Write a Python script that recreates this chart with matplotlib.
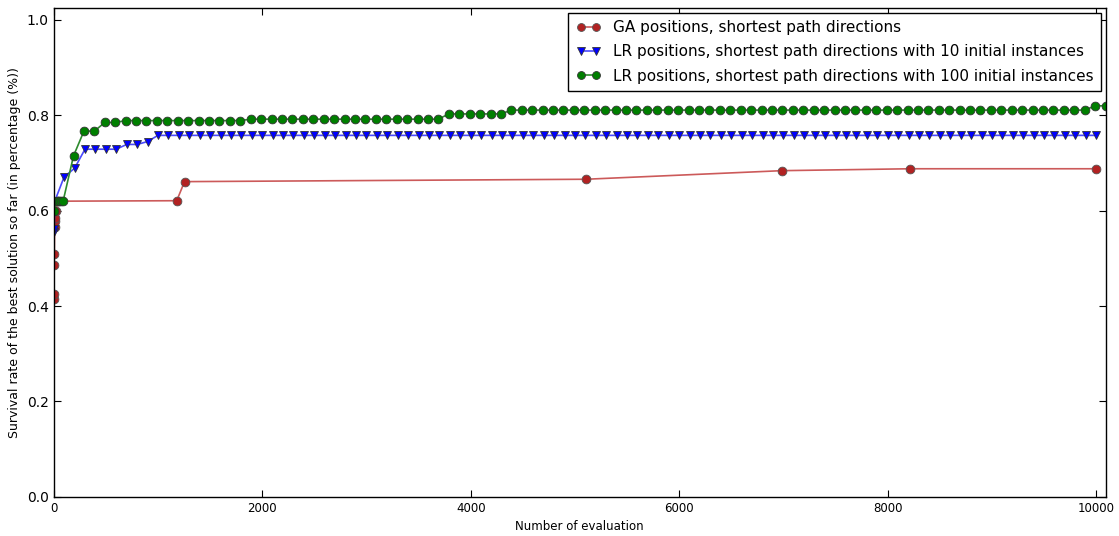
import matplotlib
matplotlib.use("Agg")
import matplotlib.pyplot as plt

# =========================
# DATA
# =========================
ga_x = [0, 2, 4, 6, 8, 10, 14, 20, 40, 1180, 1255, 5105, 6985, 8215, 10000]
ga_y = [0.415, 0.425, 0.487, 0.51, 0.565, 0.578, 0.585, 0.60, 0.62,
        0.621, 0.661, 0.666, 0.684, 0.688, 0.688]

lr10_x = [0, 5, 10] + list(range(100, 10001, 100))
lr10_levels = {100: 0.671, 200: 0.689, 300: 0.729, 700: 0.739, 900: 0.745, 1000: 0.758}
lr10_y = [0.555, 0.562, 0.62]

lr100_x = [0, 30, 50, 70, 90] + list(range(190, 10091, 100))
lr100_levels = {190: 0.715, 290: 0.767, 490: 0.785, 690: 0.789, 1890: 0.792,
                3790: 0.803, 4390: 0.811, 9990: 0.82}
lr100_y = [0.60, 0.62, 0.62, 0.62, 0.62]


# step levels -> one value per evaluation point
def fill_levels(xs, levels):
    out = []
    cur = None
    for x in xs:
        if x in levels:
            cur = levels[x]
        out.append(cur)
    return out


lr10_y += fill_levels(lr10_x[3:], lr10_levels)
lr100_y += fill_levels(lr100_x[5:], lr100_levels)

# =========================
# PLOT
# =========================
fig = plt.figure(figsize=(11.19, 5.36), dpi=100)
ax = fig.add_axes([0.048, 0.073, 0.940, 0.912])

ax.plot(ga_x, ga_y, color="#cc5a5a", marker="o", markersize=6.3,
        markerfacecolor="#b22222", markeredgecolor="#555555", markeredgewidth=0.6,
        linewidth=1.2, label="GA positions, shortest path directions")
ax.plot(lr10_x, lr10_y, color="#4a4aff", marker="v", markersize=6.3,
        markerfacecolor="#0000ff", markeredgecolor="#333333", markeredgewidth=0.6,
        linewidth=1.2, label="LR positions, shortest path directions with 10 initial instances")
ax.plot(lr100_x, lr100_y, color="#2e8b2e", marker="o", markersize=6.3,
        markerfacecolor="#007f00", markeredgecolor="#333333", markeredgewidth=0.6,
        linewidth=1.2, label="LR positions, shortest path directions with 100 initial instances")

ax.set_xlim(0, 10090)
ax.set_ylim(0, 1.025)
ax.set_xticks([0, 2000, 4000, 6000, 8000, 10000])
ax.set_yticks([0.0, 0.2, 0.4, 0.6, 0.8, 1.0])
ax.tick_params(direction="in", top=True, right=True, length=5, width=0.8)
ax.tick_params(axis="x", labelsize=8.5)
ax.tick_params(axis="y", labelsize=10)
for s in ax.spines.values():
    s.set_linewidth(1.0)

ax.set_xlabel("Number of evaluation", fontsize=8.5)
ax.set_ylabel("Survival rate of the best solution so far (in percentage (%))", fontsize=9)

leg = ax.legend(loc="upper right", numpoints=2, fontsize=11, fancybox=False,
                framealpha=1, edgecolor="black", borderaxespad=0.3,
                handlelength=1.6, labelspacing=0.6, borderpad=0.5,
                markerscale=0.9)
leg.get_frame().set_linewidth(1.0)

fig.savefig("out.png", dpi=100)
